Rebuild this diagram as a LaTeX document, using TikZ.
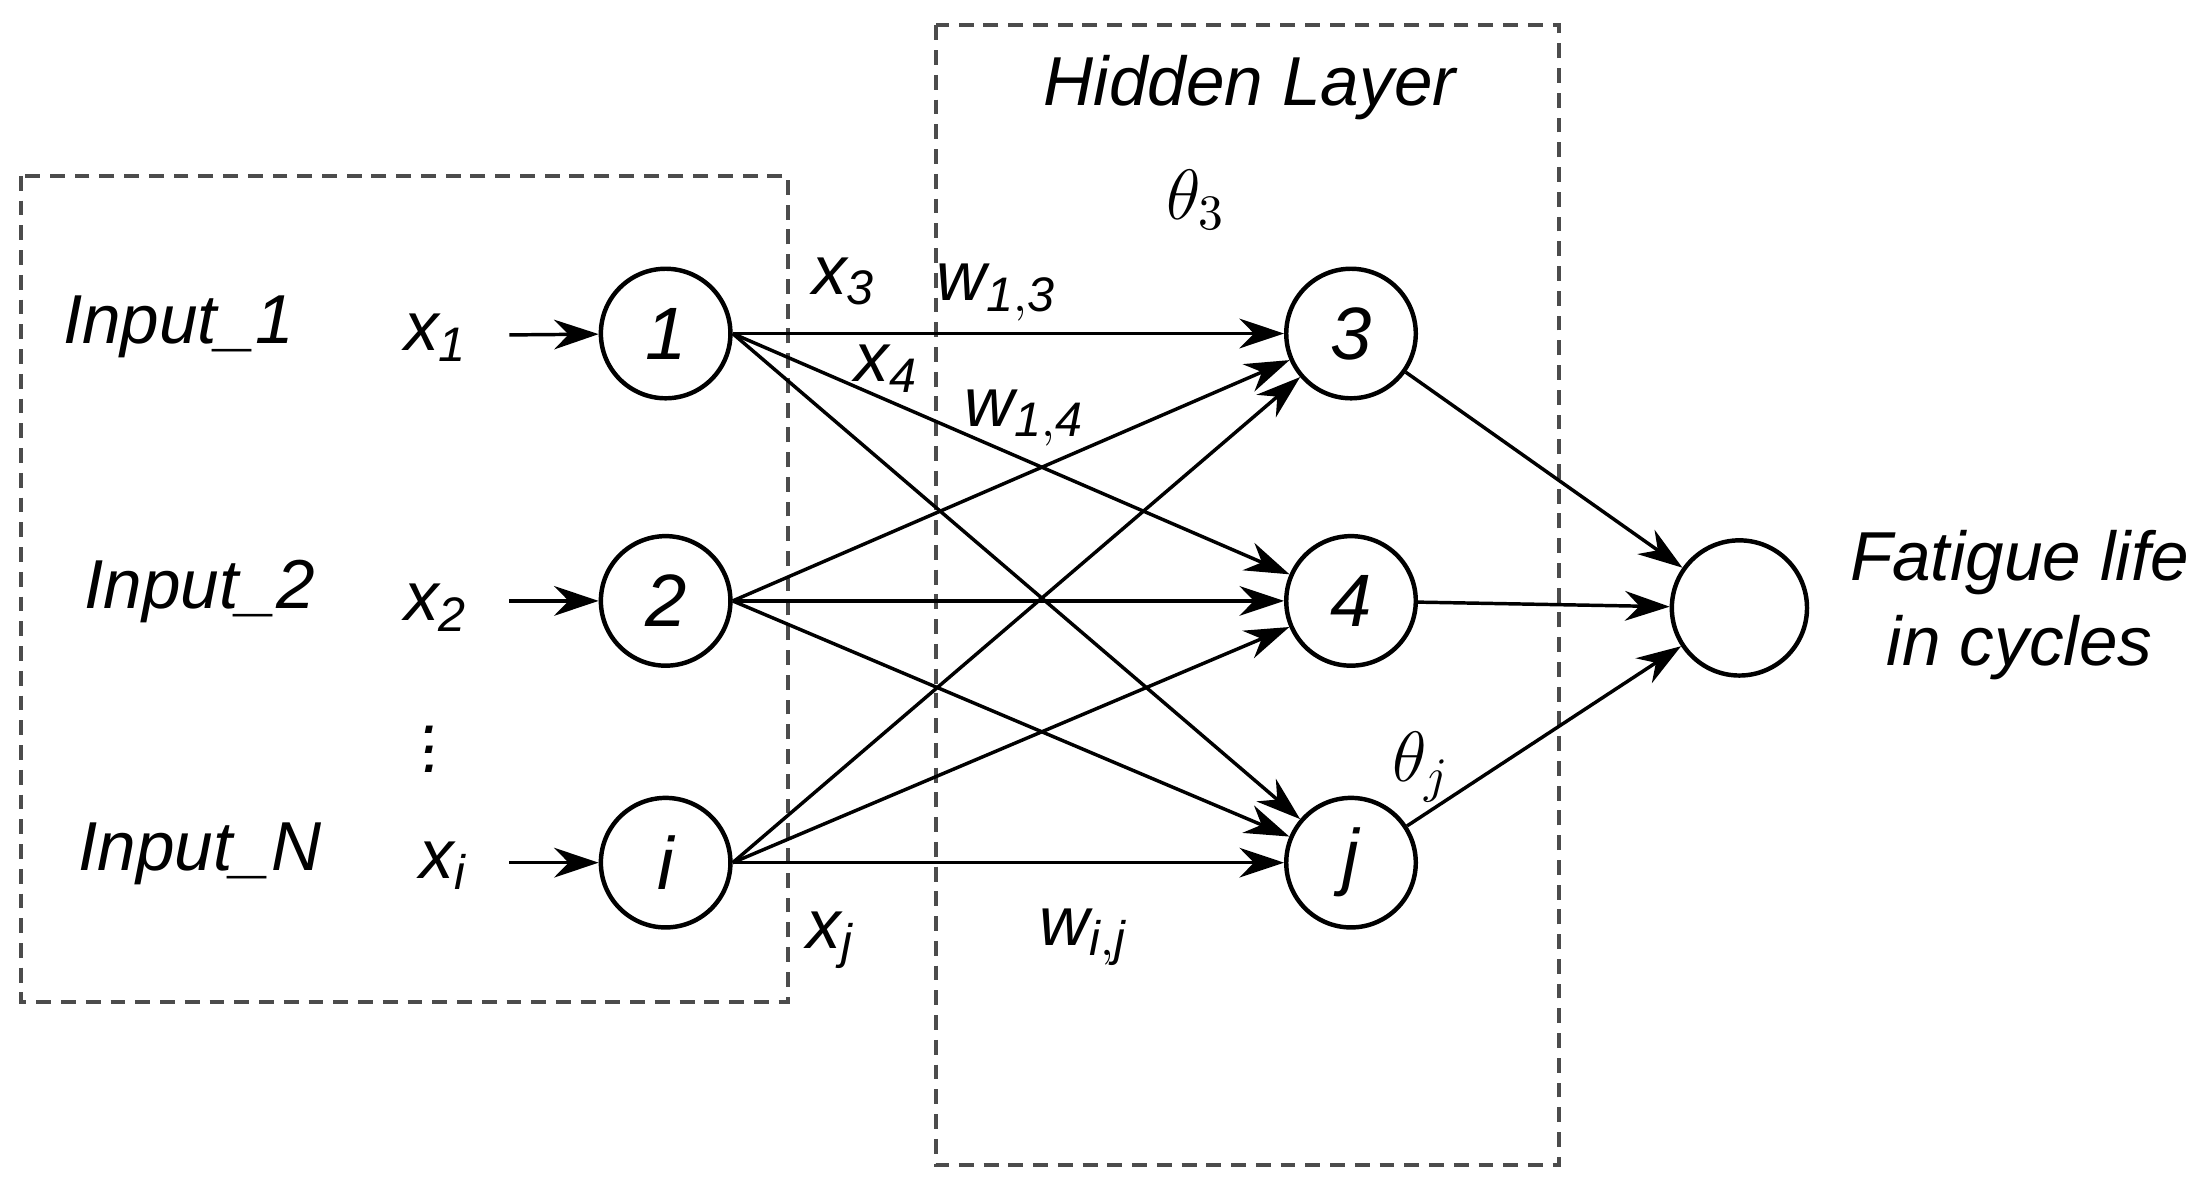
\documentclass[tikz,border=0pt]{standalone}
\usepackage{fontspec}
\setmainfont{Liberation Sans}
\usetikzlibrary{arrows.meta}
\begin{document}
\begin{tikzpicture}[x=0.01cm,y=-0.01cm,
  neuron/.style={circle,draw,line width=0.9pt,minimum size=0.92cm,inner sep=0pt,font=\fontsize{15}{17}\selectfont\itshape},
  lbl/.style={font=\fontsize{14}{17}\selectfont\itshape,inner sep=1pt},
  box/.style={draw,densely dashed,line width=0.8pt,gray!60!black},
  conn/.style={-{Stealth[length=9pt,width=6pt]},line width=0.7pt}]
\useasboundingbox (0,0) rectangle (1559,846);
\draw[box] (15,125) rectangle (560,712);
\draw[box] (665,18) rectangle (1108,828);
\node[neuron] (n1) at (473,237) {1};
\node[neuron] (n2) at (473,427) {2};
\node[neuron] (ni) at (473,613) {i};
\node[neuron] (n3) at (960,237) {3};
\node[neuron] (n4) at (960,427) {4};
\node[neuron] (nj) at (960,613) {j};
\node[neuron,minimum size=0.96cm] (out) at (1236,432) {};
\node[lbl] (in1) at (127,232) {Input\_1};
\node[lbl] (in2) at (142,420) {Input\_2};
\node[lbl] (inN) at (142,607) {Input\_N};
\node[lbl] (x1) at (310,240) {x$_{\mathit{1}}$};
\node[lbl] (x2) at (310,432) {x$_{\mathit{2}}$};
\node[lbl] (xi) at (315,615) {x$_{\mathit{i}}$};
\node[lbl] (dots) at (307,522) {$\vdots$};
\coordinate (s1) at (362,238);
\coordinate (s2) at (362,427);
\coordinate (si) at (362,613);
\draw[conn] (s1) -- (n1);
\draw[conn] (s2) -- (n2);
\draw[conn] (si) -- (ni);
\foreach \a in {n1,n2,ni}{
  \foreach \b in {n3,n4,nj}{
    \draw[conn] (\a.east) -- (\b);
  }
}
\foreach \b in {n3,n4,nj}{\draw[conn] (\b) -- (out);}
\node[lbl] (x3) at (600,200) {x$_{\mathit{3}}$};
\node[lbl] (w13) at (708,208) {w$_{\mathit{1,3}}$};
\node[lbl] (x4) at (630,262) {x$_{\mathit{4}}$};
\node[lbl] (w14) at (728,297) {w$_{\mathit{1,4}}$};
\node[lbl] (xj) at (590,668) {x$_{\mathit{j}}$};
\node[lbl] (wij) at (770,666) {w$_{\mathit{i,j}}$};
\node[lbl] (t3) at (850,142) {$\theta_3$};
\node[lbl] (tj) at (1010,545) {$\theta_j$};
\node[lbl] (hl) at (888,62) {Hidden Layer};
\node[lbl,align=center] (fl) at (1435,430) {Fatigue life\\in cycles};
\end{tikzpicture}
\end{document}
